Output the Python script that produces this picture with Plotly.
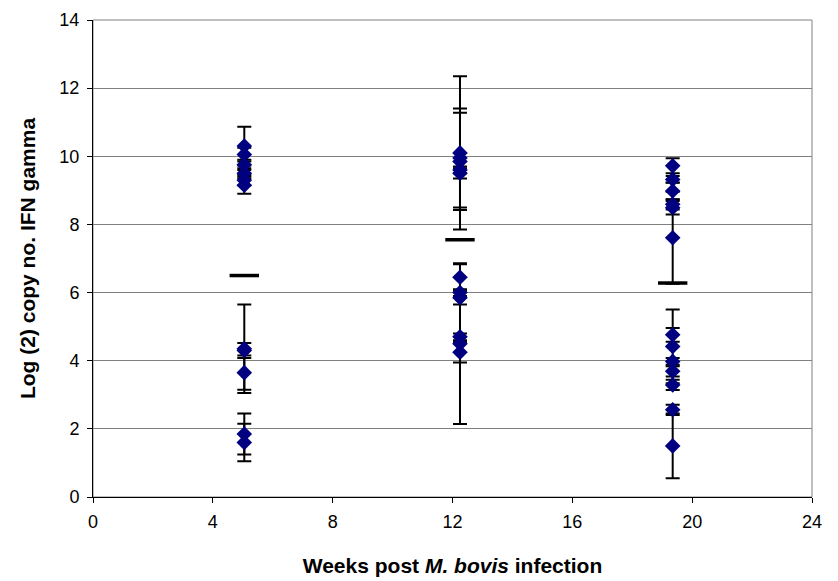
import plotly.graph_objects as go

# Week positions
week_x = [5.05, 12.25, 19.35]

# Individual animal values and error bars per week
w5_vals = [10.3, 10.05, 9.75, 9.5, 9.3, 9.15, 4.35, 4.3, 3.65, 1.85, 1.6]
w5_err = [0.57, 0.2, 0.15, 0.15, 0.15, 0.25, 1.3, 0.22, 0.5, 0.6, 0.55]

w12_vals = [10.1, 9.95, 9.85, 9.6, 9.5, 6.45, 6.0, 5.85, 4.7, 4.5, 4.25]
w12_err = [2.25, 1.45, 1.43, 0.1, 0.15, 0.38, 0.1, 0.2, 0.1, 2.36, 0.3]

w19_vals = [9.72, 9.32, 8.98, 8.59, 8.49, 7.61, 4.76, 4.42, 3.98, 3.69, 3.29, 2.56, 1.5]
w19_err = [0.22, 0.1, 0.25, 0.15, 0.2, 1.35, 0.2, 1.08, 0.1, 0.15, 0.15, 0.15, 0.95]

# Group means (dash markers)
means = [6.5, 7.55, 6.28]

x_ticks = [0, 4, 8, 12, 16, 20, 24]
y_ticks = [0, 2, 4, 6, 8, 10, 12, 14]

FONT = "Liberation Sans, Arial, sans-serif"

fig = go.Figure()

for wx, vals, errs in [(week_x[0], w5_vals, w5_err),
                       (week_x[1], w12_vals, w12_err),
                       (week_x[2], w19_vals, w19_err)]:
    fig.add_trace(go.Scatter(
        x=[wx] * len(vals), y=vals, mode="markers",
        marker=dict(symbol="diamond", size=12, color="#000080",
                    line=dict(color="#000080", width=0)),
        error_y=dict(type="data", array=errs, visible=True,
                     color="black", thickness=2, width=7),
        showlegend=False, hoverinfo="skip"))

fig.add_trace(go.Scatter(
    x=week_x, y=means, mode="markers",
    marker=dict(symbol="line-ew", size=21,
                line=dict(color="black", width=3.5)),
    showlegend=False, hoverinfo="skip"))

fig.update_layout(
    width=838, height=581,
    margin=dict(l=93, r=26, t=20, b=84),
    paper_bgcolor="white", plot_bgcolor="white",
    font=dict(family=FONT, size=18, color="black"),
    xaxis=dict(range=[0, 24], tickvals=x_ticks, ticks="outside", ticklen=5,
               tickcolor="black", showline=True, linecolor="black", linewidth=1,
               showgrid=False, zeroline=False, ticklabelstandoff=3,
               automargin=False,
               tickfont=dict(size=18, family=FONT),
               title=dict(text="<b>Weeks post <i>M. bovis</i> infection</b>",
                          font=dict(size=21, family=FONT), standoff=27)),
    yaxis=dict(range=[0, 14], tickvals=y_ticks, ticks="outside", ticklen=5,
               tickcolor="black", showline=True, linecolor="black", linewidth=1,
               showgrid=True, gridcolor="#808080", gridwidth=1, zeroline=False,
               ticklabelstandoff=4, automargin=False,
               tickfont=dict(size=18, family=FONT),
               title=dict(text="<b>Log (2) copy no. IFN gamma</b>",
                          font=dict(size=21, family=FONT), standoff=18)),
    shapes=[dict(type="rect", xref="paper", yref="paper", x0=0, y0=0, x1=1, y1=1,
                 line=dict(color="#808080", width=1), layer="below")],
)

fig.write_html("out.html")
